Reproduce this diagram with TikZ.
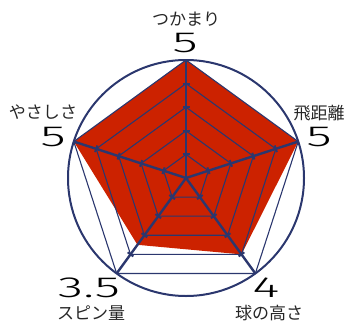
\documentclass[tikz,border=0pt]{standalone}
\usepackage{graphicx}
\usepackage{fontspec}
\setmainfont{Liberation Sans}
\newfontfamily\jp{Noto Sans CJK JP}
\newfontfamily\numfont{Fira Sans Light}
\usetikzlibrary{calc}
\definecolor{radarred}{RGB}{204,34,0}
\definecolor{navy}{RGB}{43,55,110}
\begin{document}
\begin{tikzpicture}[x=1pt,y=1pt,
  spoke/.style={navy,line width=2.4pt},
  gridline/.style={navy,line width=1.1pt},
  ring/.style={navy,line width=2pt},
  tickmark/.style={navy,line width=2pt},
  lab/.style={font=\jp\fontsize{17}{17}\selectfont,inner sep=0pt,text=black!85},
  num/.style={font=\numfont\fontsize{29}{29}\selectfont,inner sep=0pt,text=black}]
\useasboundingbox (0,0) rectangle (350,325);
\coordinate (c) at (186,147);
\foreach \i/\a/\v in {0/90/5,1/18/5,2/-54/4,3/-126/3.5,4/162/5} {
  \foreach \l in {1,...,5} { \coordinate (p\i-\l) at ($(c)+(\a:{23.6*\l})$); }
  \coordinate (d\i) at ($(c)+(\a:{23.6*\v})$);
}
\fill[radarred] (d0)--(d1)--(d2)--(d3)--(d4)--cycle;
\foreach \l in {1,...,5}
  \draw[gridline] (p0-\l)--(p1-\l)--(p2-\l)--(p3-\l)--(p4-\l)--cycle;
\draw[ring] (c) circle (118);
\foreach \i in {0,...,4} \draw[spoke] (c) -- (p\i-5);
\foreach \i/\a in {0/90,1/18,2/-54,3/-126,4/162}
  \foreach \l in {1,...,4}
    \draw[tickmark] ($(p\i-\l)+(\a+90:3.5)$) -- ($(p\i-\l)+(\a-90:3.5)$);
\node[lab] (l0) at (186,306) {つかまり};
\node[num] (n0) at (185,282) {\scalebox{1.8}[1]{5}};
\node[lab] (l1) at (319,212) {飛距離};
\node[num] (n1) at (319,188) {\scalebox{1.8}[1]{5}};
\node[lab] (l2) at (269,12) {球の高さ};
\node[num] (n2) at (266,37) {\scalebox{1.8}[1]{4}};
\node[lab] (l3) at (91,12) {スピン量};
\node[num] (n3) at (89,37) {\scalebox{1.8}[1]{3.5}};
\node[lab] (l4) at (43,213) {やさしさ};
\node[num] (n4) at (53,188) {\scalebox{1.8}[1]{5}};
\end{tikzpicture}
\end{document}
